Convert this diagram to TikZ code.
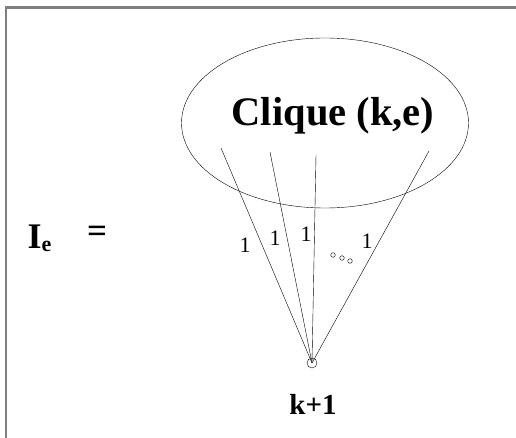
\documentclass[tikz,border=0pt]{standalone}
\usepackage{fontspec}
\setmainfont{Liberation Serif}
\usetikzlibrary{shapes.geometric}
\begin{document}
\begin{tikzpicture}[x=1pt, y=-1pt, >=stealth]
    \useasboundingbox (0,0) rectangle (516,438);
    \draw[gray, line width=2.2pt] (6,438) -- (6,7.5) -- (516,7.5);

    \node[draw, ellipse, minimum width=287pt, minimum height=170pt, inner sep=0pt] (clique) at (325,123) {};
    \node[font=\fontsize{40.5}{44}\selectfont\bfseries] (cliquelabel) at (333,116) {Clique (k,e)};

    \node[draw, circle, minimum size=10pt, inner sep=0pt] (v) at (312,363) {};
    \node[font=\fontsize{29}{32}\selectfont\bfseries] (vlabel) at (313,404) {k+1};

    \node[font=\fontsize{36}{40}\selectfont\bfseries, anchor=base west] (ie) at (24,248) {I\textsubscript{\fontsize{22}{24}\selectfont e}};
    \node[font=\fontsize{35}{38}\selectfont\bfseries] (eq) at (97,234) {=};

    \coordinate (s1) at (221,148);
    \coordinate (s2) at (270,152);
    \coordinate (s3) at (316,155);
    \coordinate (s4) at (429,151);
    \foreach \s in {s1,s2,s3,s4} {
        \draw (\s) -- (v.center);
    }

    \foreach \x/\y [count=\i] in {245/245, 275/238, 306/234, 367/241} {
        \node[font=\fontsize{22}{24}\selectfont] (w\i) at (\x,\y) {1};
    }

    \foreach \x/\y in {333/255, 342/258, 350/261} {
        \draw (\x,\y) circle (2.3pt);
    }
\end{tikzpicture}
\end{document}
